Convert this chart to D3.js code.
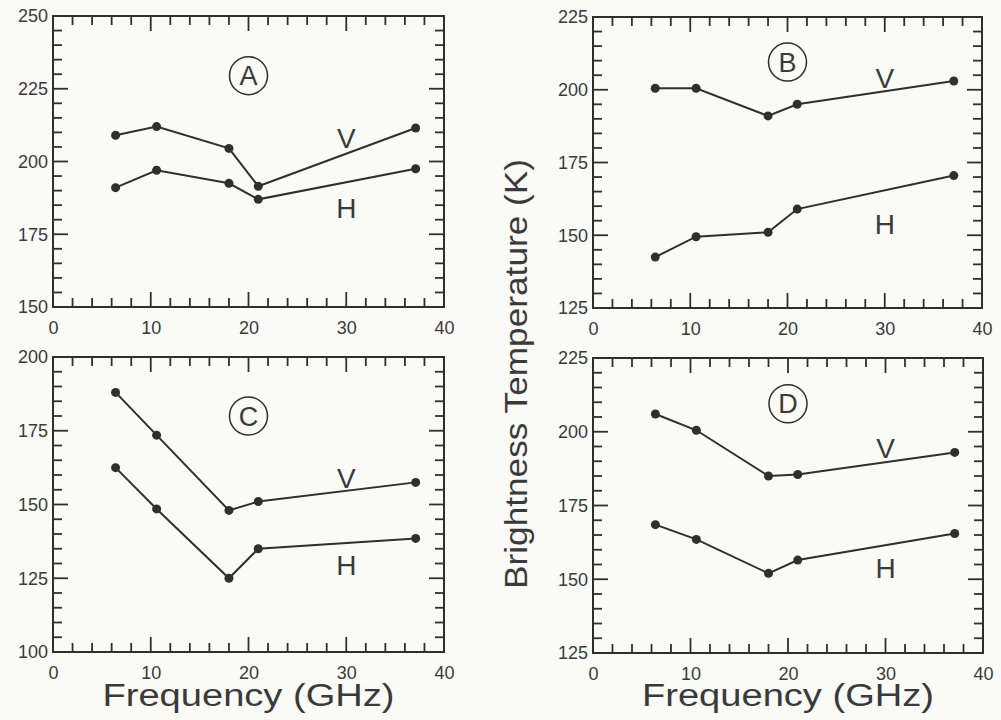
<!DOCTYPE html>
<html>
<head>
<meta charset="utf-8">
<script src="https://cdn.jsdelivr.net/npm/d3@7"></script>
<style>
  body { margin: 0; background: #fafaf7; }
  svg { display: block; }
  text { font-family: "Liberation Sans", Arial, sans-serif; fill: #3a3a3a; }
</style>
</head>
<body>
<div id="chart"></div>
<script>
// frequencies (GHz) shared by every panel
const freqs = [6.4, 10.6, 18, 21, 37.1];

// brightness temperatures (K), V and H polarisation
const aV = [209, 212, 204.5, 191.5, 211.5];
const aH = [191, 197, 192.5, 187, 197.5];
const bV = [200.5, 200.5, 191, 195, 203];
const bH = [142.5, 149.5, 151, 159, 170.5];
const cV = [188, 173.5, 148, 151, 157.5];
const cH = [162.5, 148.5, 125, 135, 138.5];
const dV = [206, 200.5, 185, 185.5, 193];
const dH = [168.5, 163.5, 152, 156.5, 165.5];

const letters = ['A', 'B', 'C', 'D'];
const yDomains = [[150, 250], [125, 225], [100, 200], [125, 225]];
const xTicks = [0, 10, 20, 30, 40];

// label anchors in data units: [letter y, V y, H y]
const labelY = [[229.5, 208, 184], [209.5, 204, 154], [180, 159, 129.5], [209.5, 194.5, 154]];

const W = 1001, H = 720;
const svg = d3.select('#chart').append('svg')
  .attr('width', W)
  .attr('height', H);

const boxes = [
  { l: 53, t: 16, w: 391, h: 291 },
  { l: 593, t: 17, w: 389, h: 291 },
  { l: 53, t: 357, w: 391, h: 295 },
  { l: 593, t: 358, w: 390, h: 295 }
];
const series = [[aV, aH], [bV, bH], [cV, cH], [dV, dH]];
const ink = '#2f2f2f';
const fontFam = '"Liberation Sans", Arial, sans-serif';

boxes.forEach((b, i) => {
  const g = svg.append('g').attr('transform', `translate(${b.l},${b.t})`);
  const x = d3.scaleLinear().domain([0, 40]).range([0, b.w]);
  const y = d3.scaleLinear().domain(yDomains[i]).range([b.h, 0]);
  const [y0, y1] = yDomains[i];
  const yTicks = d3.range(y0, y1 + 1, 5);
  const yMajor = yTicks.filter(v => (v - y0) % 25 === 0);
  const xAll = d3.range(0, 41, 2);
  const len = (major) => major ? 15 : 9;

  // tick labels
  g.append('g').attr('transform', `translate(0,${b.h})`)
    .call(d3.axisBottom(x).tickValues(xTicks).tickSize(0).tickPadding(0))
    .call(s => s.select('.domain').remove())
    .call(s => s.selectAll('text').attr('y', 21).attr('dy', '0.35em')
      .attr('font-size', 18).attr('font-family', fontFam).attr('fill', '#3a3a3a'));
  g.append('g')
    .call(d3.axisLeft(y).tickValues(yMajor).tickSize(0).tickPadding(5))
    .call(s => s.select('.domain').remove())
    .call(s => s.selectAll('text').attr('font-size', 18)
      .attr('font-family', fontFam).attr('fill', '#3a3a3a'));

  // inward ticks on all four sides
  const ticks = g.append('g').attr('stroke', ink).attr('stroke-width', 1.8);
  ticks.selectAll('line.xb').data(xAll).join('line')
    .attr('x1', d => x(d)).attr('x2', d => x(d))
    .attr('y1', b.h).attr('y2', d => b.h - len(d % 10 === 0));
  ticks.selectAll('line.xt').data(xAll).join('line')
    .attr('x1', d => x(d)).attr('x2', d => x(d))
    .attr('y1', 0).attr('y2', d => len(d % 10 === 0));
  ticks.selectAll('line.yl').data(yTicks).join('line')
    .attr('y1', d => y(d)).attr('y2', d => y(d))
    .attr('x1', 0).attr('x2', d => len(yMajor.includes(d)));
  ticks.selectAll('line.yr').data(yTicks).join('line')
    .attr('y1', d => y(d)).attr('y2', d => y(d))
    .attr('x1', b.w).attr('x2', d => b.w - len(yMajor.includes(d)));

  g.append('rect')
    .attr('width', b.w).attr('height', b.h)
    .attr('fill', 'none').attr('stroke', ink).attr('stroke-width', 2);

  const line = d3.line().x((d, j) => x(freqs[j])).y(d => y(d));
  series[i].forEach(vals => {
    g.append('path').datum(vals)
      .attr('d', line)
      .attr('fill', 'none').attr('stroke', ink).attr('stroke-width', 2);
    g.append('g').selectAll('circle')
      .data(vals)
      .join('circle')
        .attr('cx', (d, j) => x(freqs[j]))
        .attr('cy', d => y(d))
        .attr('r', 4.5)
        .attr('fill', ink);
  });

  // circled panel letter
  const [ly, vy, hy] = labelY[i];
  g.append('circle')
    .attr('cx', x(20)).attr('cy', y(ly)).attr('r', 19)
    .attr('fill', 'none').attr('stroke', ink).attr('stroke-width', 1.5);
  g.append('text')
    .attr('x', x(20)).attr('y', y(ly)).attr('dy', '0.36em')
    .attr('text-anchor', 'middle').attr('font-size', 27)
    .text(letters[i]);
  g.append('text')
    .attr('x', x(30)).attr('y', y(vy)).attr('dy', '0.36em')
    .attr('text-anchor', 'middle').attr('font-size', 28)
    .text('V');
  g.append('text')
    .attr('x', x(30)).attr('y', y(hy)).attr('dy', '0.36em')
    .attr('text-anchor', 'middle').attr('font-size', 28)
    .text('H');
});

// axis titles
[boxes[2], boxes[3]].forEach(b => {
  svg.append('text')
    .attr('x', b.l + b.w / 2).attr('y', 706)
    .attr('text-anchor', 'middle').attr('font-size', 31)
    .attr('textLength', 292).attr('lengthAdjust', 'spacingAndGlyphs')
    .text('Frequency (GHz)');
});
svg.append('text')
  .attr('transform', 'translate(527,374) rotate(-90)')
  .attr('text-anchor', 'middle').attr('font-size', 32)
  .attr('textLength', 430).attr('lengthAdjust', 'spacingAndGlyphs')
  .text('Brightness Temperature (K)');
</script>
</body>
</html>
